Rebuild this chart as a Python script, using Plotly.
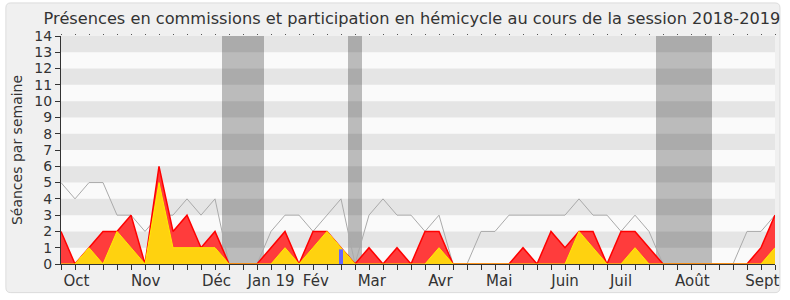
import plotly.graph_objects as go

# ---- data ----
weeks = list(range(52))
gray_line = [5, 4, 5, 5, 3, 3, 2, 3, 3, 4, 3, 4, 0, 0, 0, 2, 3, 3, 2, 3, 4, 0, 3, 4, 3, 3,
             2, 3, 0, 0, 2, 2, 3, 3, 3, 3, 3, 4, 3, 3, 2, 3, 2, 0, 0, 0, 0, 0, 0, 2, 2, 3]
red_area = [2, 0, 1, 2, 2, 3, 0, 6, 2, 3, 1, 2, 0, 0, 0, 1, 2, 0, 2, 2, 1, 0, 1, 0, 1, 0,
            2, 2, 0, 0, 0, 0, 0, 1, 0, 2, 1, 2, 2, 0, 2, 2, 1, 0, 0, 0, 0, 0, 0, 0, 1, 3]
yellow_area = [0, 0, 1, 0, 2, 1, 0, 5, 1, 1, 1, 1, 0, 0, 0, 0, 1, 0, 1, 2, 1, 0, 0, 0, 0, 0,
               0, 1, 0, 0, 0, 0, 0, 0, 0, 0, 0, 2, 1, 0, 0, 1, 0, 0, 0, 0, 0, 0, 0, 0, 0, 1]
blue_x = [20]
blue_y = [0.9]
month_pos = [1.1, 6.05, 11.1, 15.0, 18.2, 22.2, 27.1, 31.3, 36.0, 40.0, 45.1, 50.1]
month_labels = ["Oct", "Nov", "Déc", "Jan 19", "Fév", "Mar", "Avr", "Mai", "Juin", "Juil", "Août", "Sept"]
vacations = [(11.5, 14.5), (20.5, 21.5), (42.5, 46.5)]

W, H = 790, 300
L, R, T, B = 61, 10, 36, 33
FONT = "DejaVu Sans"

fig = go.Figure()

fig.add_trace(go.Scatter(x=weeks, y=gray_line, mode="lines",
                         line=dict(color="#aaaaaa", width=1), hoverinfo="skip", showlegend=False))
fig.add_trace(go.Scatter(x=weeks, y=red_area, mode="lines", fill="tozeroy",
                         fillcolor="#ff3c3c", line=dict(color="#ff0000", width=1.5),
                         showlegend=False))
fig.add_trace(go.Scatter(x=weeks, y=yellow_area, mode="lines", fill="tozeroy",
                         fillcolor="#ffd20f", line=dict(color="#ffee00", width=1),
                         showlegend=False))
# narrow blue bar(s), drawn as thick vertical segments so they sit above the areas
for bx, by in zip(blue_x, blue_y):
    fig.add_trace(go.Scatter(x=[bx, bx], y=[0, by], mode="lines",
                             line=dict(color="#6666ff", width=4), showlegend=False))

# month labels axis (overlay) and top tick dots
fig.add_trace(go.Scatter(x=[0], y=[0], xaxis="x2", mode="markers",
                         marker=dict(opacity=0), hoverinfo="skip", showlegend=False))
fig.add_trace(go.Scatter(x=[0], y=[0], xaxis="x3", mode="markers",
                         marker=dict(opacity=0), hoverinfo="skip", showlegend=False))

shapes = []
pw, ph = W - L - R, H - T - B
def px2paper(xp, yp):
    return (xp - L) / pw, (H - B - yp) / ph
def P(xp, yp):
    a, b = px2paper(xp, yp)
    return f"{a:.5f},{b:.5f}"
x0p, x1p, y0p, y1p, r = 5.5, 785, 2.5, 296, 5
path = (f"M {P(x0p + r, y0p)} L {P(x1p - r, y0p)} Q {P(x1p, y0p)} {P(x1p, y0p + r)} "
        f"L {P(x1p, y1p - r)} Q {P(x1p, y1p)} {P(x1p - r, y1p)} "
        f"L {P(x0p + r, y1p)} Q {P(x0p, y1p)} {P(x0p, y1p - r)} "
        f"L {P(x0p, y0p + r)} Q {P(x0p, y0p)} {P(x0p + r, y0p)} Z")
shapes.append(dict(type="path", xref="paper", yref="paper", path=path,
                   fillcolor="#f0f0f0", line=dict(color="#dcdcdc", width=1), layer="below"))
shapes.append(dict(type="rect", xref="paper", yref="paper", x0=0, x1=1, y0=0, y1=1,
                   fillcolor="#fafafa", line=dict(width=0), layer="below"))
for k in range(1, 14, 2):
    shapes.append(dict(type="rect", xref="paper", yref="y", x0=0, x1=1, y0=k, y1=k + 1,
                       fillcolor="#e5e5e5", line=dict(width=0), layer="below"))
for a, b in vacations:
    shapes.append(dict(type="rect", xref="x", yref="paper", x0=a, x1=b, y0=0, y1=1,
                       fillcolor="rgba(0,0,0,0.25)", line=dict(width=0), layer="below"))

fig.update_layout(
    width=W, height=H,
    margin=dict(l=L, r=R, t=T, b=B, pad=0),
    paper_bgcolor="white",
    plot_bgcolor="rgba(0,0,0,0)",
    font=dict(family=FONT, color="#333333", size=14),
    title=dict(text="Présences en commissions et participation en hémicycle au cours de la session 2018-2019",
               x=0.5215, xanchor="center", y=0.94, yanchor="middle", font=dict(size=16.2, color="#333333")),
    showlegend=False,
    shapes=shapes,
    xaxis=dict(range=[0, 51], tickmode="linear", tick0=0, dtick=1, ticks="outside", ticklen=5,
               tickcolor="#333333", showticklabels=False, showline=True, linecolor="#333333",
               linewidth=1, showgrid=False, zeroline=False, fixedrange=True),
    xaxis2=dict(range=[0, 51], overlaying="x", side="bottom", anchor="y", tickmode="array",
                tickvals=month_pos, ticktext=month_labels, ticks="outside", ticklen=3,
                tickcolor="rgba(0,0,0,0)", showline=False, showgrid=False, zeroline=False,
                tickfont=dict(size=15, color="#333333")),
    xaxis3=dict(range=[0, 51], overlaying="x", side="top", anchor="y", tickmode="linear", tick0=0,
                dtick=1, ticks="outside", ticklen=1, tickcolor="#555555", showticklabels=False,
                showline=False, showgrid=False, zeroline=False),
    yaxis=dict(range=[0, 14], tickmode="linear", tick0=0, dtick=1, ticks="outside", ticklen=5,
               tickcolor="#333333", showline=True, linecolor="#333333", linewidth=1,
               showgrid=False, zeroline=False, tickfont=dict(size=14, color="#333333"),
               title=dict(text="Séances par semaine", font=dict(size=14, color="#333333"), standoff=8)),
)

fig.write_html("out.html")
